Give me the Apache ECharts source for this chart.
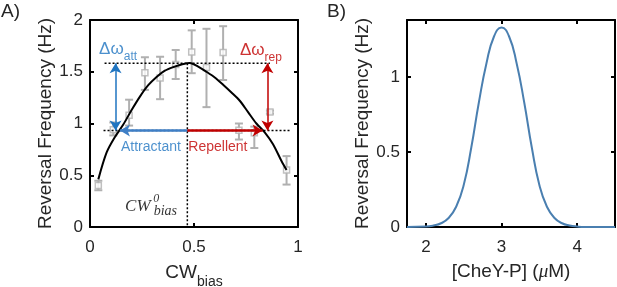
<!DOCTYPE html>
<html>
<head>
<meta charset="utf-8">
<script src="https://cdn.jsdelivr.net/npm/echarts@6/dist/echarts.min.js"></script>
<style>
  html, body { margin: 0; padding: 0; background: #fff; }
  #chart { width: 617px; height: 287px; }
</style>
</head>
<body>
<div id="chart"></div>
<script>
  // panel A: measured points (CW bias vs reversal frequency)
  const cwBias = [0.04, 0.112, 0.188, 0.264, 0.337, 0.412, 0.489, 0.56, 0.64, 0.716, 0.79, 0.865, 0.945]
  const freqMean = [0.40, 0.94, 1.08, 1.49, 1.44, 1.57, 1.69, 1.54, 1.685, 0.935, 0.91, 1.11, 0.55]
  const freqLow = [0.355, 0.885, 0.98, 1.325, 1.235, 1.43, 1.486, 1.158, 1.42, 0.845, 0.763, 1.095, 0.41]
  const freqHigh = [0.447, 1.01, 1.23, 1.64, 1.645, 1.71, 1.90, 1.915, 1.94, 1.0, 0.97, 1.125, 0.685]

  // panel A: model curve
  const fitX = [0.04, 0.08, 0.12, 0.16, 0.20, 0.24, 0.28, 0.32, 0.36, 0.40, 0.44, 0.48, 0.52, 0.56, 0.60, 0.64, 0.68, 0.72, 0.76, 0.80, 0.84, 0.88, 0.92, 0.945]
  const fitY = [0.46, 0.72, 0.87, 0.99, 1.13, 1.26, 1.37, 1.45, 1.51, 1.545, 1.57, 1.585, 1.55, 1.50, 1.445, 1.375, 1.30, 1.22, 1.11, 1.0, 0.915, 0.80, 0.64, 0.55]

  // panel A: guide levels
  const peakCW = 0.468
  const peakFreq = 1.583
  const baseFreq = 0.932
  const attCW = 0.144
  const repCW = 0.83

  // panel B: reversal frequency vs [CheY-P]
  const cheyP = [1.75, 2.0, 2.1, 2.2, 2.3, 2.4, 2.5, 2.6, 2.7, 2.8, 2.9, 3.0, 3.1, 3.2, 3.3, 3.4, 3.5, 3.6, 3.7, 3.8, 3.9, 4.0, 4.1, 4.5]
  const revFreq = [0, 0.003, 0.01, 0.025, 0.06, 0.135, 0.28, 0.53, 0.83, 1.09, 1.27, 1.33, 1.27, 1.09, 0.83, 0.53, 0.28, 0.135, 0.06, 0.025, 0.01, 0.003, 0, 0]

  const blue = '#1f74c0'
  const red = '#c00000'
  const gray = '#b0b0b0'
  const textCol = '#262626'
  const font = 'Arial, "Liberation Sans", sans-serif'
  const serif = '"Liberation Serif", "DejaVu Serif", serif'

  const chart = echarts.init(document.getElementById('chart'))

  function axis(gridIndex, position, min, max, extra) {
    const labels = position === 'bottom' || position === 'left'
    return Object.assign({
      type: 'value',
      gridIndex: gridIndex,
      position: position,
      min: min,
      max: max,
      axisLine: {show: true, onZero: false, lineStyle: {color: '#000', width: 2}},
      axisTick: {show: true, inside: true, length: 4, lineStyle: {color: '#000', width: 2}},
      splitLine: {show: false},
      axisLabel: {show: labels, color: textCol, fontSize: 17, fontFamily: font, margin: 9},
      nameTextStyle: {color: textCol, fontSize: 19, fontFamily: font}
    }, extra || {})
  }

  const subRich = {
    m: {fontSize: 19, fontFamily: font, color: textCol, lineHeight: 24, verticalAlign: 'bottom'},
    s: {fontSize: 14, fontFamily: font, color: textCol, lineHeight: 24, verticalAlign: 'bottom', padding: [0, 0, -7, 0]}
  }

  function dotted(coords) {
    return {
      type: 'line', xAxisIndex: 0, yAxisIndex: 0, silent: true, symbol: 'none',
      lineStyle: {color: '#000', width: 1.5, type: [2, 2]},
      data: coords, z: 3
    }
  }

  function arrow(from, to, color, both) {
    return [
      {coord: from, symbol: both ? 'arrow' : 'none',
        lineStyle: {color: color, width: both ? 1.5 : 2.5, type: 'solid'},
        itemStyle: {color: color}},
      {coord: to, symbol: 'arrow'}
    ]
  }

  function note(x, y, formatter, rich) {
    return {value: [x, y], label: {show: true, position: 'inside', formatter: formatter, rich: rich}}
  }

  function deltaRich(color) {
    return {
      d: {fontSize: 17, fontFamily: font, color: color, lineHeight: 22, verticalAlign: 'bottom'},
      s: {fontSize: 12, fontFamily: font, color: color, lineHeight: 22, verticalAlign: 'bottom', padding: [0, 0, -5, 0]}
    }
  }

  chart.setOption({
    animation: false,
    grid: [
      {left: 90, top: 20, width: 208, height: 207, outerBoundsMode: 'none'},
      {left: 407, top: 20, width: 208, height: 207, outerBoundsMode: 'none'}
    ],
    xAxis: [
      axis(0, 'bottom', 0, 1, {
        interval: 0.5,
        name: '{m|CW}{s|bias}', nameLocation: 'middle', nameGap: 31,
        nameTextStyle: {rich: subRich},
        axisLabel: {color: textCol, fontSize: 17, fontFamily: font, margin: 12,
          formatter: v => String(v)}
      }),
      axis(0, 'top', 0, 1, {interval: 0.5}),
      axis(1, 'bottom', 1.75, 4.5, {
        splitNumber: 3,
        name: '[CheY-P] ({i|μ}M)', nameLocation: 'middle', nameGap: 35,
        nameTextStyle: {color: textCol, fontSize: 19, fontFamily: font,
          rich: {i: {fontSize: 19, fontFamily: serif, fontStyle: 'italic', color: textCol}}},
        axisLabel: {color: textCol, fontSize: 17, fontFamily: font, margin: 12,
          showMinLabel: false, showMaxLabel: false}
      }),
      axis(1, 'top', 1.75, 4.5, {splitNumber: 3})
    ],
    yAxis: [
      axis(0, 'left', 0, 2, {
        interval: 0.5,
        name: 'Reversal Frequency (Hz)', nameLocation: 'middle', nameGap: 33,
        axisLabel: {color: textCol, fontSize: 17, fontFamily: font, margin: 7}
      }),
      axis(0, 'right', 0, 2, {interval: 0.5}),
      axis(1, 'left', 0, 1.38, {
        interval: 0.5,
        name: 'Reversal Frequency (Hz)', nameLocation: 'middle', nameGap: 35,
        axisLabel: {color: textCol, fontSize: 17, fontFamily: font, margin: 7, showMaxLabel: false}
      }),
      axis(1, 'right', 0, 1.38, {interval: 0.5})
    ],
    graphic: [
      {type: 'text', left: 1, top: 2, style: {text: 'A)', fontSize: 19, fontFamily: font, fill: textCol}},
      {type: 'text', left: 327, top: 2, style: {text: 'B)', fontSize: 19, fontFamily: font, fill: textCol}}
    ],
    series: [
      // guide lines
      dotted([[0.07, peakFreq], [0.865, peakFreq]]),
      dotted([[0.065, baseFreq], [0.96, baseFreq]]),
      dotted([[peakCW, peakFreq], [peakCW, 0]]),
      // error bars
      {
        type: 'custom', xAxisIndex: 0, yAxisIndex: 0, silent: true, z: 2,
        data: cwBias.map((x, i) => [x, freqLow[i], freqHigh[i]]),
        renderItem(params, api) {
          const lo = api.coord([api.value(0), api.value(1)])
          const hi = api.coord([api.value(0), api.value(2)])
          const w = 4
          const st = {stroke: gray, lineWidth: 2}
          return {
            type: 'group',
            children: [
              {type: 'line', shape: {x1: lo[0], y1: lo[1], x2: hi[0], y2: hi[1]}, style: st},
              {type: 'line', shape: {x1: lo[0] - w, y1: lo[1], x2: lo[0] + w, y2: lo[1]}, style: st},
              {type: 'line', shape: {x1: hi[0] - w, y1: hi[1], x2: hi[0] + w, y2: hi[1]}, style: st}
            ]
          }
        }
      },
      {
        type: 'scatter', xAxisIndex: 0, yAxisIndex: 0, silent: true, z: 2,
        symbol: 'rect', symbolSize: 6,
        itemStyle: {color: '#fff', borderColor: gray, borderWidth: 1.5},
        data: cwBias.map((x, i) => [x, freqMean[i]])
      },
      // model curve
      {
        type: 'line', xAxisIndex: 0, yAxisIndex: 0, silent: true, z: 4,
        symbol: 'none', smooth: 0.3,
        lineStyle: {color: '#000', width: 2},
        data: fitX.map((x, i) => [x, fitY[i]]),
        markLine: {
          silent: true, symbolSize: [9, 10], label: {show: false},
          lineStyle: {type: 'solid'},
          data: [
            arrow([peakCW, baseFreq], [attCW, baseFreq], '#3f7fc6'),
            arrow([peakCW, baseFreq], [repCW, baseFreq], red),
            arrow([0.123, peakFreq], [0.123, baseFreq], blue, true),
            arrow([0.853, peakFreq], [0.853, baseFreq], red, true)
          ]
        }
      },
      // annotations
      {
        type: 'scatter', xAxisIndex: 0, yAxisIndex: 0, silent: true, symbolSize: 0, z: 5,
        data: [
          note(0.135, 1.74, '{d|Δω}{s|att}', deltaRich(blue)),
          note(0.822, 1.73, '{d|Δω}{s|rep}', deltaRich(red)),
          note(0.293, 0.77, '{t|Attractant}', {t: {fontSize: 14, fontFamily: font, color: blue}}),
          note(0.615, 0.77, '{t|Repellent}', {t: {fontSize: 14, fontFamily: font, color: red}}),
          note(0.23, 0.2, '{t|CW}', {t: {fontSize: 17, fontFamily: serif, fontStyle: 'italic', color: '#000'}}),
          note(0.318, 0.27, '{t|0}', {t: {fontSize: 12, fontFamily: serif, fontStyle: 'italic', color: '#000'}}),
          note(0.362, 0.15, '{t|bias}', {t: {fontSize: 14, fontFamily: serif, fontStyle: 'italic', color: '#000'}})
        ]
      },
      // panel B curve
      {
        type: 'line', xAxisIndex: 2, yAxisIndex: 2, silent: true,
        symbol: 'none', smooth: true,
        lineStyle: {color: '#4a7fb0', width: 2},
        data: cheyP.map((x, i) => [x, revFreq[i]])
      }
    ]
  })
</script>
</body>
</html>
